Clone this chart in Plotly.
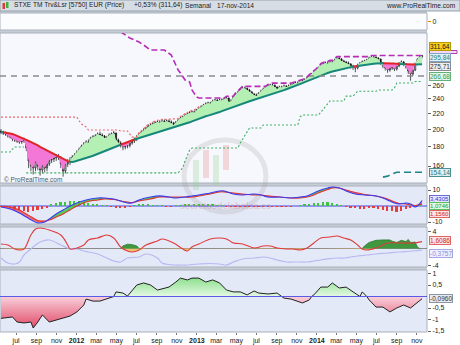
import math
import pandas as pd
import plotly.graph_objects as go

# ---------------- DATA (weekly, first week 2011-05-16) ----------------
START = "2011-05-16"

close = [196.5,195.3,194.2,191.8,190.7,188.4,187.3,186.2,185.1,186.2,
186.9,178.4,164.9,160.0,158.1,164.9,160.0,156.2,161.0,158.1,
162.0,165.9,166.9,168.0,169.5,168.5,162.0,155.3,162.0,164.0,
165.9,169.0,171.0,174.1,177.3,180.6,182.8,185.1,184.2,189.6,
190.7,191.8,194.2,193.0,191.8,189.6,190.1,193.0,194.2,195.3,
187.3,183.9,181.7,179.5,180.6,181.2,183.9,186.2,188.4,190.7,
194.2,196.5,198.9,201.4,203.8,205.1,206.3,207.6,208.8,208.1,
210.1,208.8,210.1,208.8,207.6,205.1,208.8,211.3,213.9,215.2,
217.8,219.2,220.5,221.9,221.2,224.5,227.3,228.6,231.4,232.8,
234.2,233.5,237.0,238.4,237.0,238.4,238.0,239.9,241.3,235.6,
237.0,242.8,247.3,250.3,253.3,256.4,255.9,253.3,250.3,247.3,
245.8,244.3,248.8,251.8,254.9,258.0,259.5,261.1,260.6,258.0,
254.9,258.0,257.4,259.5,258.0,259.5,261.1,262.7,264.3,263.8,
267.5,267.0,269.1,272.4,275.6,279.0,282.3,285.8,289.3,294.6,
296.4,298.2,297.5,300.0,299.4,303.6,307.3,305.5,301.8,300.0,
298.2,296.4,292.8,291.1,289.3,294.6,298.2,300.0,301.8,303.6,
307.3,309.2,308.6,307.3,305.5,298.2,292.8,289.3,285.8,289.3,
291.1,287.5,292.8,298.2,300.0,296.4,291.1,284.1,279.0,285.8,
297.0,305.0,310.0,311.64]

opn = [197.5,196.5,195.3,194.2,191.8,190.7,188.4,187.3,186.2,185.1,
186.2,186.9,178.4,164.9,160.0,158.1,164.9,160.0,156.2,161.0,
158.1,162.0,165.9,166.9,168.0,169.5,168.5,162.0,155.3,162.0,
164.0,165.9,169.0,171.0,174.1,177.3,180.6,182.8,185.1,184.2,
189.6,190.7,191.8,194.2,193.0,191.8,189.6,190.1,193.0,194.2,
195.3,187.3,183.9,181.7,179.5,180.6,181.2,183.9,186.2,188.4,
190.7,194.2,196.5,198.9,201.4,203.8,205.1,206.3,207.6,208.8,
208.1,210.1,208.8,210.1,208.8,207.6,205.1,208.8,211.3,213.9,
215.2,217.8,219.2,220.5,221.9,221.2,224.5,227.3,228.6,231.4,
232.8,234.2,233.5,237.0,238.4,237.0,238.4,238.0,239.9,241.3,
235.6,237.0,242.8,247.3,250.3,253.3,256.4,255.9,253.3,250.3,
247.3,245.8,244.3,248.8,251.8,254.9,258.0,259.5,261.1,260.6,
258.0,254.9,258.0,257.4,259.5,258.0,259.5,261.1,262.7,264.3,
263.8,267.5,267.0,269.1,272.4,275.6,279.0,282.3,285.8,289.3,
294.6,296.4,298.2,297.5,300.0,299.4,303.6,307.3,305.5,301.8,
300.0,298.2,296.4,292.8,291.1,289.3,294.6,298.2,300.0,301.8,
303.6,307.3,309.2,308.6,307.3,305.5,298.2,292.8,289.3,285.8,
289.3,291.1,287.5,292.8,298.2,300.0,296.4,291.1,284.1,279.0,
285.8,297.0,305.0,310.0]

high = [200,198,197,195,194,192,190,189,188,189,
190,188,179,168,163,167,167,162,164,163,
165,168,170,171,172,172,170,164,165,167,
169,171,173,176,179,182,185,187,188,191,
193,194,196,197,195,193,192,195,196,198,
196,189,186,184,183,184,186,188,190,193,
196,198,201,203,206,207,209,210,211,211,
212,212,212,212,211,209,210,213,216,217,
220,221,223,224,224,226,229,231,233,235,
236,236,239,240,240,241,241,242,244,242,
240,244,249,252,256,259,259,257,255,252,
249,248,250,254,257,260,262,263,264,262,
259,260,260,262,261,262,263,265,267,267,
269,270,272,274,278,281,285,288,292,297,
299,301,301,303,303,306,310,310,307,304,
302,301,298,295,293,297,300,303,304,306,
310,312,312,311,309,306,300,295,292,292,
294,293,295,300,303,302,298,293,287,288,
299,307,312,313]

low = [194,193,192,190,189,186,185,184,183,183,
184,175,158,155,152,155,156,151,153,154,
155,160,163,164,165,166,158,150,153,159,
161,164,166,169,172,175,178,181,182,183,
187,188,190,191,189,187,187,188,191,192,
185,181,179,176,177,178,179,182,184,186,
189,192,195,197,200,202,203,204,205,205,
206,206,207,206,204,202,203,207,210,212,
214,216,217,218,219,220,223,226,227,230,
231,231,232,235,235,235,235,236,238,232,
233,236,241,245,249,252,253,251,248,245,
243,240,243,247,250,253,256,257,258,255,
251,253,255,256,255,256,257,259,261,261,
262,264,265,267,270,273,277,280,283,287,
292,294,294,295,296,297,301,302,298,296,
294,292,288,286,282,287,292,296,298,299,
302,305,305,304,302,295,289,285,281,283,
286,284,285,291,296,293,288,279,268,276,
284,295,303,307]

ma = [196.4,196.1,195.8,195.6,195.3,194.2,193.1,192.1,191.0,189.9,
188.7,187.4,186.2,185.1,183.8,182.5,181.2,179.7,178.4,177.1,
175.8,174.5,173.3,172.0,170.9,169.7,168.5,167.1,165.8,164.8,
164.3,164.0,164.5,165.1,165.7,166.3,167.0,167.6,168.5,169.4,
170.3,171.2,172.1,173.1,174.0,175.1,176.0,177.0,178.1,179.0,
180.1,181.1,182.0,183.0,184.0,184.9,185.9,187.0,187.8,188.6,
189.4,190.1,190.9,191.7,192.4,193.1,193.9,194.7,195.6,196.4,
197.1,197.9,198.8,199.6,200.5,201.4,202.2,203.2,204.1,205.0,
206.1,207.2,208.4,209.6,210.8,212.1,213.3,214.3,215.2,216.1,
217.0,217.8,218.7,219.7,220.6,221.7,222.9,224.1,225.2,226.4,
227.5,228.8,229.9,231.0,232.1,233.2,234.3,235.6,236.7,237.7,
238.7,239.7,240.8,241.8,242.8,243.7,244.8,245.8,247.0,248.2,
249.4,250.6,252.0,253.1,254.4,255.6,256.9,258.3,259.9,261.3,
262.7,264.1,265.6,267.2,268.6,270.1,271.6,273.0,274.7,276.1,
277.6,279.2,280.7,282.4,283.3,284.3,285.3,286.2,287.2,288.3,
289.3,290.4,291.3,291.8,292.5,293.0,293.7,294.2,294.9,295.5,
296.0,296.6,296.8,297.1,297.3,297.5,297.9,298.0,298.2,297.9,
297.5,297.1,297.0,296.6,296.4,296.2,296.0,295.9,295.7,295.5,
295.5,295.7,295.7,295.84]

# step / stop lines on the price panel (week index, value)
purple_i = [52,54,56,58,60,62,64,65,71,72,74,75,76,77,78,79,80,82,83,85,
            86,97,98,101,102,103,104,105,115,116,117,118,126,127,128,129,130,131,132,133,
            134,135,136,137,138,139,140,141,142,143,144,145,146,160,161,183]
purple_v = [360,353,347,342.6,338.5,332.5,326.4,322.5,322.5,318.7,313,303.6,294.6,285.8,280.7,274,269.1,265.9,253.3,242.8,
            241.3,241.3,244,244,249,252,256,259,259,262,263,264,264,265,267,267,269,270,272,274,
            278,281,285,288,292,297,299,301,301,303,303,306,310,310,312,312]
red_i = [0,33,34,35,37,38,51,52,55,56,57,59,60,61,62,63,64,65,66,67,68,70,77,78,79,80,81,82,83,85,86]
red_v = [215,215,210,206.3,202.6,198.9,198.9,197.7,197.7,194.2,190.6,190.6,196,198,201,203,206,207,209,210,
         211,212,213,216,217,220,221,223,224,226,229]
green_i = [0,4,5,6,10,10,11,77,78,79,80,81,82,83,103,104,106,108,113,114,129,130,131,138,139,141,143,149,150,153,
           154,155,163,164,170,171,172,179,180,183]
green_v = [174.1,174.1,177.3,179.5,179.5,None,153.5,153.5,156,158.2,164.9,171,176.2,178.4,178.4,183.9,192.3,201.4,201.4,205.1,
           205.1,215.5,217.8,217.8,221.6,229.6,237,237,244.1,244.1,248.4,251.4,251.4,253.3,253.3,256.4,264.3,264.3,266.68,266.68]
teal_i = [166,168,170,172,183]
teal_v = [149.6,150.5,152.5,154.14,154.14]
gray_level = 275.71

# MACD panel
macd_i = [0,4,8,11,14,16,19,21,24,27,30,33,37,42,45,49,52,55,57,60,
          65,69,73,76,80,83,86,91,95,97,101,105,110,113,116,121,126,130,133,136,
          139,142,144,147,150,154,158,163,166,169,171,173,176,178,180,181,183]
macd = [-0.6,-1.9,-4.4,-6.9,-9.4,-10.6,-10.0,-8.1,-5.0,-2.5,0.0,1.9,3.8,5.0,5.0,4.4,3.1,1.9,1.9,3.8,
        5.6,6.3,5.6,5.0,5.6,6.3,6.9,8.1,9.4,9.4,7.5,6.9,7.5,6.9,5.6,5.6,5.0,5.6,6.3,8.1,
        10.0,11.3,11.9,11.3,9.4,7.5,6.9,6.3,5.0,3.1,1.9,1.3,1.9,1.3,-0.6,0.0,3.43]
signal = [0.0,-0.6,-2.5,-5.0,-7.5,-9.1,-9.4,-8.8,-6.9,-5.0,-2.5,0.0,2.5,3.8,4.4,4.1,3.1,2.5,2.2,3.1,
          4.4,5.6,5.6,5.6,5.6,5.6,6.3,7.5,8.8,8.8,8.1,7.5,6.9,6.9,6.3,5.6,5.0,5.0,5.6,6.9,
          8.8,10.3,11.3,11.3,10.0,8.4,7.2,6.3,5.3,3.8,2.5,1.6,1.3,0.6,0.3,0.6,1.156]
hist_i = list(range(0, 184, 2))
hist = [-0.5,-0.8,-1.5,-2.2,-2.8,-3.2,-3.6,-3.3,-2.6,-1.8,
        -0.9,0.8,1.8,2.4,2.8,3.0,3.2,3.0,2.6,2.0,
        1.4,1.0,0.5,0.2,-0.3,-0.8,-1.0,-0.9,-0.5,0.3,
        0.9,1.2,1.0,0.6,0.3,0.1,-0.2,-0.3,0.2,0.5,
        0.8,1.0,1.1,1.2,1.3,1.1,0.9,0.6,0.3,-0.2,
        -0.5,-0.6,-0.5,-0.4,-0.3,-0.2,-0.3,-0.4,-0.5,-0.5,
        -0.4,-0.4,-0.3,-0.2,0.0,0.3,0.7,1.2,1.7,2.1,
        2.4,2.2,1.8,1.2,0.5,-0.4,-1.0,-1.4,-1.6,-1.6,
        -1.5,-1.5,-1.8,-2.3,-2.9,-3.4,-3.6,-3.0,-2.0,-1.2,
        0.4,1.5]

# oscillator panel
osc_i = [0,3,6,8,10,13,15,17,21,26,29,30,33,36,38,42,46,49,52,55,
         57,60,63,68,70,75,79,81,83,86,91,95,98,101,105,110,114,117,120,124,
         127,130,133,136,139,143,146,149,152,155,157,159,163,168,173,179,183]
osc_red = [1.05,0.81,-0.12,-0.35,-0.12,3.14,4.53,4.77,4.30,3.14,0.81,-0.12,0.12,0.81,1.98,2.44,3.14,2.44,0.35,-0.58,
           -0.81,-0.35,0.81,1.74,2.21,1.28,-0.12,-0.58,0.35,1.05,2.21,2.44,2.21,1.28,1.05,0.12,0.58,0.58,0.12,-0.12,
           -0.12,-0.35,0.12,1.28,2.44,2.67,2.91,2.44,1.98,0.81,-0.12,-0.35,0.12,1.28,1.28,1.28,1.6086]
osc_lav = [-2.21,-3.37,-3.60,-3.14,-1.51,-0.12,0.81,1.51,1.98,0.81,0.12,0.0,-0.12,-0.58,-0.81,-1.28,-2.21,-2.91,-3.14,-2.21,
           -2.09,-1.98,-1.28,-2.21,-3.37,-3.84,-3.84,-3.84,-3.72,-3.60,-3.49,-3.60,-3.84,-3.14,-2.44,-2.21,-1.98,-2.21,-2.67,-3.14,
           -3.14,-3.14,-3.14,-2.91,-2.67,-2.33,-2.21,-2.21,-1.98,-1.74,-1.63,-1.51,-1.28,-1.05,-0.81,-0.58,-0.3757]
osc_g1_i = [52,53,55,57,59,60]
osc_g1 = [0,0.6,1.0,0.9,0.6,0]
osc_g2_i = [157,158,160,163,166,169,170,172,174,176,177,178,180,181,182]
osc_g2 = [0,0.6,1.4,1.9,2.0,2.0,1.7,1.4,1.9,1.6,2.1,1.4,1.5,0.3,0]

# bottom panel
bot_i = [0,3,5,7,10,13,14,16,18,21,24,27,30,33,36,37,40,43,46,49,
         50,53,55,57,59,62,65,68,70,73,76,78,81,83,86,89,92,95,98,101,
         104,107,110,112,116,120,122,123,126,129,131,134,135,136,139,142,144,147,150,153,
         156,157,159,160,163,166,169,172,175,178,181,183]
bot_v = [-0.95,-0.93,-0.89,-1.11,-1.15,-1.11,-1.37,-1.11,-0.80,-1.11,-1.02,-0.93,-0.85,-0.67,-0.37,-0.11,-0.20,-0.20,-0.11,0.0,
         0.20,0.15,0.02,0.28,0.50,0.59,0.50,0.28,0.33,0.41,0.63,0.80,0.72,0.80,0.80,0.63,0.72,0.59,0.28,0.20,
         0.20,0.07,0.24,0.15,0.11,0.15,0.0,-0.07,-0.11,-0.20,-0.28,-0.15,0.0,0.07,0.41,0.41,0.59,0.37,0.41,0.20,
         0.0,0.20,0.0,-0.15,-0.46,-0.46,-0.67,-0.50,-0.37,-0.50,-0.24,-0.096]

month_ticks = ["2011-07-01","2011-09-01","2011-11-01","2012-01-01","2012-03-01","2012-05-01","2012-07-01",
               "2012-09-01","2012-11-01","2013-01-01","2013-03-01","2013-05-01","2013-07-01","2013-09-01",
               "2013-11-01","2014-01-01","2014-03-01","2014-05-01","2014-07-01","2014-09-01","2014-11-01"]
month_text = ["jul","sep","nov","<b>2012</b>","mar","may","jul","sep","nov","<b>2013</b>","mar","may",
              "jul","sep","nov","<b>2014</b>","mar","may","jul","sep","nov"]

# ---------------- LAYOUT HELPERS ----------------
W, H = 460, 345
PW, PH = 427, 332
def px(x): return x / PW
def py(y): return (PH - y) / PH

t0 = pd.Timestamp(START)
def d(idx): return [t0 + pd.Timedelta(weeks=i) for i in idx]
n = len(close)
dates = d(range(n))
X0, X1 = "2011-05-13", "2014-12-02"

FONT = "Liberation Sans, Arial, sans-serif"
fig = go.Figure()

def runs(flags):
    out, s = [], 0
    for k in range(1, len(flags) + 1):
        if k == len(flags) or flags[k] != flags[s]:
            out.append((s, k - 1, flags[s]))
            s = k
    return out

# top (empty) panel dummy
fig.add_trace(go.Scatter(x=[dates[0]], y=[0], yaxis="y", mode="markers",
                         marker=dict(opacity=0), hoverinfo="skip"))

# ---- price panel: fills between close and MA
for a, b, up in runs([c >= m for c, m in zip(close, ma)]):
    e = min(b + 1, n - 1)
    xs = dates[a:e + 1] + dates[a:e + 1][::-1]
    ys = close[a:e + 1] + ma[a:e + 1][::-1]
    fig.add_trace(go.Scatter(x=xs, y=ys, yaxis="y2", fill="toself", mode="lines",
                             line=dict(width=0), fillcolor="#b4f0b4" if up else "#f277d6",
                             hoverinfo="skip"))
for a, b, up in runs([c >= m for c, m in zip(close, ma)]):
    e = min(b + 1, n - 1)
    fig.add_trace(go.Scatter(x=dates[a:e + 1], y=ma[a:e + 1], yaxis="y2", mode="lines",
                             line=dict(color="#17877a" if up else "#e02424", width=2),
                             hoverinfo="skip"))

fig.add_trace(go.Scatter(x=[X0, X1], y=[gray_level, gray_level], yaxis="y2", mode="lines",
                         line=dict(color="#8a8a8a", width=1.6, dash="6px,5px"), hoverinfo="skip"))

fig.add_trace(go.Candlestick(x=dates, open=opn, high=high, low=low, close=close, yaxis="y2",
                             increasing=dict(line=dict(color="#111", width=0.7), fillcolor="#ffffff"),
                             decreasing=dict(line=dict(color="#111", width=0.7), fillcolor="#111"),
                             whiskerwidth=0, hoverinfo="skip"))

fig.add_trace(go.Scatter(x=d(red_i), y=red_v, yaxis="y2", mode="lines",
                         line=dict(color="#f06a6a", width=1.2, dash="2px,2px"), hoverinfo="skip"))
fig.add_trace(go.Scatter(x=d(purple_i), y=purple_v, yaxis="y2", mode="lines",
                         line=dict(color="#b52cb5", width=1.6, dash="6px,3px"), hoverinfo="skip"))
fig.add_trace(go.Scatter(x=d(green_i), y=green_v, yaxis="y2", mode="lines", connectgaps=False,
                         line=dict(color="#3fae5f", width=1.1, dash="2px,2px"), hoverinfo="skip"))
fig.add_trace(go.Scatter(x=d(teal_i), y=teal_v, yaxis="y2", mode="lines",
                         line=dict(color="#1f8585", width=1.6, dash="7px,4px"), hoverinfo="skip"))

# ---- MACD panel
fig.add_trace(go.Bar(x=d(hist_i), y=hist, yaxis="y3", width=5 * 86400000,
                     marker=dict(color=["#3cc43c" if v >= 0 else "#e63c3c" for v in hist], line=dict(width=0)),
                     hoverinfo="skip"))
m = len(macd_i)
for a, b, up in runs([p >= q for p, q in zip(macd, signal)]):
    e = min(b + 1, m - 1)
    xs = d(macd_i[a:e + 1]) + d(macd_i[a:e + 1])[::-1]
    ys = macd[a:e + 1] + signal[a:e + 1][::-1]
    fig.add_trace(go.Scatter(x=xs, y=ys, yaxis="y3", fill="toself", mode="lines", line=dict(width=0),
                             fillcolor="rgba(60,200,60,0.85)" if up else "rgba(236,90,90,0.85)",
                             hoverinfo="skip"))
fig.add_trace(go.Scatter(x=d(macd_i), y=signal, yaxis="y3", mode="lines", line_shape="spline",
                         line=dict(color="#e23232", width=1.1), hoverinfo="skip"))
fig.add_trace(go.Scatter(x=d(macd_i), y=macd, yaxis="y3", mode="lines", line_shape="spline",
                         line=dict(color="#3a3af0", width=1.1), hoverinfo="skip"))

# ---- oscillator panel
fig.add_trace(go.Scatter(x=d(osc_i), y=[min(v, 0) for v in osc_red], yaxis="y4", mode="lines",
                         fill="tozeroy", fillcolor="rgba(240,190,90,0.9)", line=dict(width=0),
                         hoverinfo="skip"))
for gi, gv in ((osc_g1_i, osc_g1), (osc_g2_i, osc_g2)):
    fig.add_trace(go.Scatter(x=d(gi), y=gv, yaxis="y4", mode="lines", fill="tozeroy",
                             fillcolor="#3f973f", line=dict(color="#2b7a2b", width=0.8),
                             hoverinfo="skip"))
fig.add_trace(go.Scatter(x=d(osc_i), y=osc_lav, yaxis="y4", mode="lines", line_shape="spline",
                         line=dict(color="#b9b9f2", width=1.2), hoverinfo="skip"))
fig.add_trace(go.Scatter(x=d(osc_i), y=osc_red, yaxis="y4", mode="lines", line_shape="spline",
                         line=dict(color="#e03a3a", width=1.1), hoverinfo="skip"))

# ---- bottom panel
fig.add_trace(go.Scatter(x=d(bot_i), y=[max(v, 0) for v in bot_v], yaxis="y5", mode="lines",
                         fill="tozeroy", line=dict(width=0),
                         fillgradient=dict(type="vertical", colorscale=[[0, "#e4f8e4"], [1, "#8ee08e"]]),
                         hoverinfo="skip"))
fig.add_trace(go.Scatter(x=d(bot_i), y=[min(v, 0) for v in bot_v], yaxis="y5", mode="lines",
                         fill="tozeroy", line=dict(width=0),
                         fillgradient=dict(type="vertical", colorscale=[[0, "#e24a68"], [1, "#f8d0da"]]),
                         hoverinfo="skip"))
fig.add_trace(go.Scatter(x=d(bot_i), y=bot_v, yaxis="y5", mode="lines",
                         line=dict(color="#222", width=1), hoverinfo="skip"))

# ---------------- SHAPES (panels, separators, header, watermark) ----------------
shapes = []
def rect(x0, y0, x1, y1, fill, line=None, lw=0, layer="below"):
    shapes.append(dict(type="rect", xref="paper", yref="paper", x0=px(x0), x1=px(x1),
                       y0=py(y1), y1=py(y0), fillcolor=fill, layer=layer,
                       line=dict(color=line or "rgba(0,0,0,0)", width=lw)))

rect(0, 11, 427, 332, "#c6ccd4")                       # separator colour behind panels
rect(0, 13, 427, 30, "#fbfcfe", "#aab2bc", 1)          # top panel
rect(0, 33, 427, 183, "#f6f8fd", "#aab2bc", 1)         # price
rect(0, 186, 427, 224, "#e4e9f8", "#aab2bc", 1)        # macd
rect(0, 227, 427, 267, "#e4e9f8", "#aab2bc", 1)        # osc
rect(0, 270, 427, 332, "#e4e9f8", "#aab2bc", 1)        # bottom
rect(0, 0, 460, 11, "#d6dde5", "#97a1ad", 1)           # header bar
rect(2.5, 3, 5, 9, "#e03a3a", layer="above")            # header icon
rect(6, 2, 8.5, 8, "#3cb43c", layer="above")
rect(429.5, 50.5, 457, 53.5, "#f4d8f4", "#b040b0", 1, layer="above")   # hidden stop-line tag

# faint watermark logo
shapes.append(dict(type="circle", xref="paper", yref="paper", x0=px(184), x1=px(266),
                   y0=py(212), y1=py(140), line=dict(color="rgba(160,150,150,0.22)", width=5), layer="below"))
for (x0, y0, x1, y1, c) in [(193, 160, 199, 190, "rgba(150,210,150,0.3)"),
                            (203, 150, 209, 178, "rgba(230,140,140,0.3)"),
                            (213, 155, 219, 185, "rgba(150,210,150,0.3)"),
                            (223, 145, 229, 170, "rgba(230,140,140,0.3)")]:
    rect(x0, y0, x1, y1, c)

# zero lines
shapes.append(dict(type="line", xref="paper", x0=0, x1=1, yref="y3", y0=0, y1=0,
                   line=dict(color="#4646e6", width=1), layer="below"))
shapes.append(dict(type="line", xref="paper", x0=0, x1=1, yref="y4", y0=0, y1=0,
                   line=dict(color="#8c8c8c", width=1), layer="below"))
shapes.append(dict(type="line", xref="paper", x0=0, x1=1, yref="y5", y0=0, y1=0,
                   line=dict(color="#5a5ae6", width=1.2), layer="above"))

# ---------------- ANNOTATIONS ----------------
ann = []
def text(x, y, s, size=7, color="#1b1b1b", anchor="left", bold=False):
    ann.append(dict(xref="paper", yref="paper", x=px(x), y=py(y), text=("<b>%s</b>" % s) if bold else s,
                    showarrow=False, xanchor=anchor, yanchor="middle",
                    font=dict(size=size, color=color, family=FONT)))

text(12, 5.5, "STXE TM Trv&amp;Lsr [5750] EUR (Price)", 6.6)
text(132, 5.5, "+0,53% (311,64)", 6.6)
text(183, 5.5, "Semanal", 6.6)
text(215, 5.5, "17-nov-2014", 6.6)
text(458, 5.5, "www.ProRealTime.com", 6.6, anchor="right")
text(2, 179, "© ProRealTime.com", 6.5, "#555")
text(225, 206, "secretosdelabolsa.es", 9, "rgba(200,110,110,0.28)", anchor="center", bold=True)

def box(s, y, fg, bg, bd, size=6.5):
    ann.append(dict(xref="paper", yref="paper", x=px(429.5), y=py(y), text=s, showarrow=False,
                    xanchor="left", yanchor="middle", font=dict(size=size, color=fg, family=FONT),
                    bgcolor=bg, bordercolor=bd, borderwidth=1, borderpad=0))

box("311,64", 46.5, "#111", "#f6d21e", "#b89a00")
box("295,84", 57.5, "#17877a", "#e2eef6", "#7fa6c6")
box("275,71", 67, "#333", "#eeeeee", "#8a8a8a")
box("266,68", 76.5, "#2f9a55", "#e6f5ea", "#62b07e")
box("154,14", 172, "#1f7a7a", "#e2eef2", "#4a9090")
box("3,4305", 198.5, "#3030d0", "#e6e8ff", "#6a6ad6", 6)
box("1,0746", 206, "#22a022", "#e2f6e2", "#5abf5a", 6)
box("1,1560", 213.5, "#d02424", "#fbe6e6", "#e06262", 6)
box("1,6086", 241, "#d02424", "#fbe6e6", "#e06262")
box("-0,3757", 253, "#8c8cd6", "#eef0ff", "#a6a6e4")
box("-0,0960", 298.5, "#333", "#e6eaf2", "#8a96a6")

# ---------------- AXES ----------------
def yax(dom, **kw):
    base = dict(domain=[py(dom[1]), py(dom[0])], anchor="x", side="right", showgrid=False,
                zeroline=False, showline=False, ticks="outside", ticklen=3, tickcolor="#666",
                tickfont=dict(size=7, color="#222", family=FONT), fixedrange=True)
    base.update(kw)
    return base

fig.update_layout(
    width=W, height=H, margin=dict(l=0, r=33, t=0, b=13),
    paper_bgcolor="white", plot_bgcolor="rgba(0,0,0,0)", showlegend=False,
    font=dict(family=FONT, size=7, color="#222"), bargap=0,
    xaxis=dict(type="date", range=[X0, X1], domain=[0, 1], anchor="y5",
               rangeslider=dict(visible=False), tickvals=month_ticks, ticktext=month_text,
               ticks="outside", ticklen=2, tickcolor="#777", showgrid=False, zeroline=False,
               showline=False, tickfont=dict(size=7, color="#222", family=FONT)),
    yaxis=yax((13, 30), range=[-1, 1], tickvals=[0], ticktext=["0"], tickcolor="#e08a00"),
    yaxis2=yax((33, 183), type="log", range=[math.log10(144.4), math.log10(357.5)],
               tickvals=[160, 180, 200, 220, 240, 260],
               ticktext=["160", "180", "200", "220", "240", "260"]),
    yaxis3=yax((186, 224), range=[-11.25, 12.5], tickvals=[10, -10], ticktext=["10", "-10"]),
    yaxis4=yax((227, 267), range=[-4.3, 5.0], tickvals=[4, -4], ticktext=["4", "-4"]),
    yaxis5=yax((270, 332), range=[-1.543, 1.152], tickvals=[1, 0.5, -0.5, -1, -1.5],
               ticktext=["1", "0,5", "-0,5", "-1", "-1,5"]),
    shapes=shapes, annotations=ann,
)

fig.write_html("out.html")
